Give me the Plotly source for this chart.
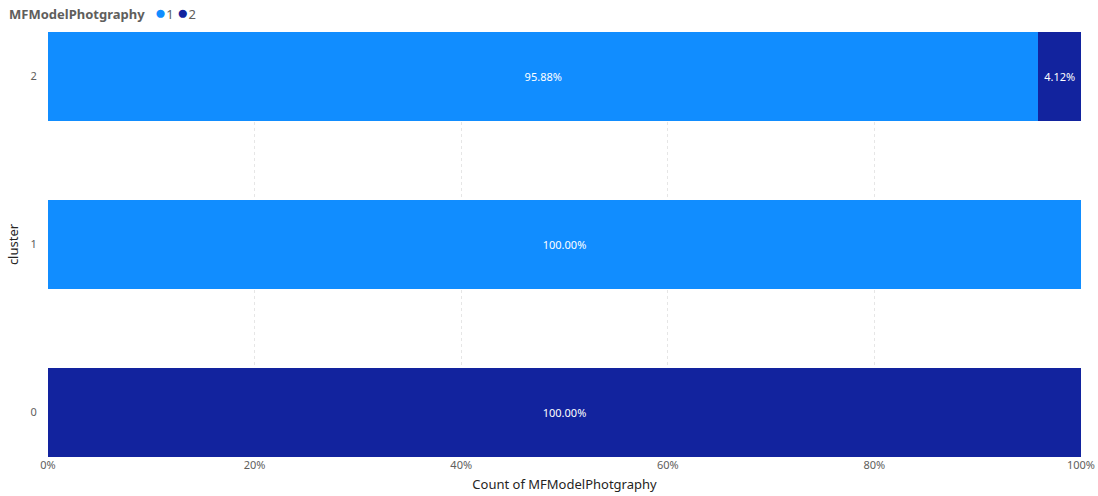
import plotly.graph_objects as go

clusters = ["0", "1", "2"]
series_names = ["1", "2"]
series1 = [0.0, 100.0, 95.88]
series2 = [100.0, 0.0, 4.12]
colors = ["#118DFF", "#12239E"]
x_ticks = [0, 20, 40, 60, 80, 100]
x_tick_labels = ["0%", "20%", "40%", "60%", "80%", "100%"]
legend_title = "MFModelPhotgraphy"

fig = go.Figure()
for name, vals, col in zip(series_names, [series1, series2], colors):
    txt = [f"{v:.2f}%" if v > 0 else "" for v in vals]
    fig.add_trace(go.Bar(
        y=clusters, x=vals, orientation="h", name=name,
        marker=dict(color=col, line=dict(width=0)),
        text=txt, textposition="inside", insidetextanchor="middle",
        textfont=dict(color="white", size=11, family="Noto Sans"),
        width=0.53, showlegend=False, cliponaxis=False,
    ))

legend_html = f"<b>{legend_title}</b>   " + " ".join(
    f"<span style='color:{c};font-size:19px'>●</span>{n}" for n, c in zip(series_names, colors)
)
fig.add_annotation(
    text=legend_html, xref="paper", yref="paper", x=0, y=1,
    xshift=-41, yshift=20,
    xanchor="left", yanchor="middle", showarrow=False,
    font=dict(size=13, color="#605E5C", family="Noto Sans"),
)

fig.update_layout(
    barmode="stack",
    showlegend=False,
    width=1098, height=496,
    margin=dict(l=48, r=17, t=32, b=39, autoexpand=False),
    plot_bgcolor="white", paper_bgcolor="white",
    font=dict(family="Noto Sans", color="#605E5C", size=11),
    xaxis=dict(
        range=[0, 100], tickvals=x_ticks, ticktext=x_tick_labels,
        showgrid=True, gridcolor="#E6E6E6", griddash="dot", gridwidth=1,
        zeroline=False, showline=False, automargin=False,
        title=dict(text="Count of MFModelPhotgraphy", font=dict(size=13, color="#252423"), standoff=8),
        tickfont=dict(size=11, color="#605E5C"),
    ),
    yaxis=dict(
        type="category", categoryorder="array", categoryarray=clusters,
        range=[-0.265, 2.265], showgrid=False, zeroline=False, automargin=False,
        title=dict(text="cluster", font=dict(size=13, color="#252423"), standoff=8),
        tickfont=dict(size=11, color="#605E5C"),
        ticks="outside", ticklen=8, tickcolor="rgba(0,0,0,0)",
    ),
)

fig.write_html("out.html")
